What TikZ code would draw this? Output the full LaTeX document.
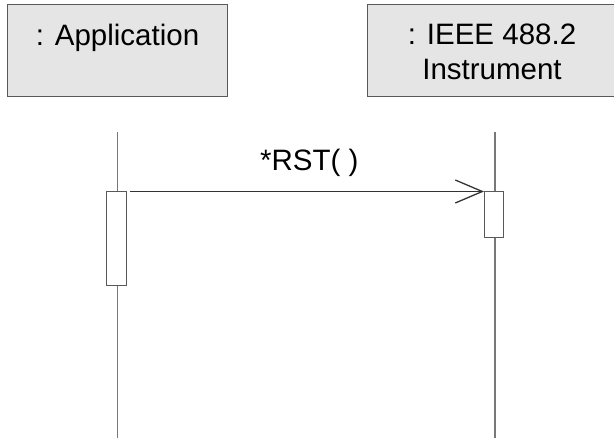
\documentclass[tikz,border=0pt]{standalone}
\usepackage{fontspec}
\setmainfont{Liberation Sans}
\usepackage{tikz}
\usetikzlibrary{positioning,arrows.meta}

\definecolor{objfill}{gray}{0.9}
\definecolor{objline}{gray}{0.35}
\definecolor{lifeline}{gray}{0.47}
\definecolor{msgline}{gray}{0.2}

\tikzset{
	objbox/.style={shape=rectangle,draw=objline,fill=objfill,line width=1pt,minimum width=#1,minimum height=92pt,inner sep=0pt},
	objtext/.style={align=center,inner sep=0pt,font=\fontsize{29.5}{35}\selectfont},
	actbox/.style={shape=rectangle,draw=objline,fill=white,line width=1pt,minimum width=19.5pt,minimum height=#1,inner sep=0pt},
	life/.style={draw=lifeline,line width=1.3pt},
	msg/.style={draw=msgline,line width=1pt,-{Straight Barb[length=27pt,width=23pt,line width=1.3pt]}}
}

\begin{document}
\begin{tikzpicture}[x=1pt,y=-1pt]
	\useasboundingbox (0,0) rectangle (614,438);

	\node[objbox=220pt] (app) at (117.5, 51)     {};
	\node[objbox=250pt] (inst) at (492, 51)     {};

	\node[objtext,below=19pt of app.north] (applbl)     {: Application};
	\node[objtext,below=19pt of inst.north] (instlbl)     {: IEEE 488.2\\Instrument};

	\coordinate (apptop) at (117.7, 132.5);
	\coordinate (append) at (117.7, 440);
	\coordinate (insttop) at (495, 132.5);
	\coordinate (instend) at (495, 440);

	\path[life] (apptop) edge (append);
	\path[life] (insttop) edge (instend);

	\node[actbox=94pt] (appact) at (116.4, 239)     {};
	\node[actbox=46pt] (instact) at (494.2, 215)     {};

	\draw[msg] ([xshift=3pt]appact.north east) -- node[objtext,above=14pt,xshift=2.5pt] (rst) {*RST( )} (instact.north west);
\end{tikzpicture}
\end{document}
